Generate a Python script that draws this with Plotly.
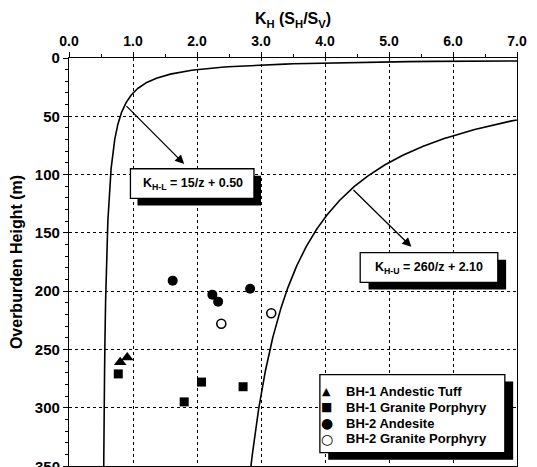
import numpy as np
import plotly.graph_objects as go

# Measured stress ratio K_H = S_H / S_V versus overburden height z (m)
tuff_k = [0.80, 0.91]
tuff_z = [261, 257]

bh1_porph_k = [0.77, 1.80, 2.07, 2.72]
bh1_porph_z = [271, 295, 278, 282]

andesite_k = [1.62, 2.24, 2.33, 2.83]
andesite_z = [191, 203, 209, 198]

bh2_porph_k = [3.16, 2.38]
bh2_porph_z = [219, 228]

# Envelope curves K = a / z + b
lower_a, lower_b = 15.0, 0.50
upper_a, upper_b = 260.0, 2.10

x_ticks = [0, 1, 2, 3, 4, 5, 6, 7]
x_tick_text = ["0.0", "1.0", "2.0", "3.0", "4.0", "5.0", "6.0", "7.0"]
y_ticks = [0, 50, 100, 150, 200, 250, 300, 350]

legend_names = ["BH-1 Andestic Tuff", "BH-1 Granite Porphyry",
                "BH-2 Andesite", "BH-2 Granite Porphyry"]
legend_glyphs = ["\u25B2", "\u25A0", "\u25CF", "\u25CB"]

FONT = "Arial, Liberation Sans, Helvetica, sans-serif"
SYM_FONT = "DejaVu Sans"

z_lower = np.linspace(1.5, 350, 1500)
z_upper = np.linspace(40, 350, 800)

fig = go.Figure()

fig.add_trace(go.Scatter(x=lower_a / z_lower + lower_b, y=z_lower, mode="lines",
                         line=dict(color="black", width=1.6), showlegend=False,
                         hoverinfo="skip"))
fig.add_trace(go.Scatter(x=upper_a / z_upper + upper_b, y=z_upper, mode="lines",
                         line=dict(color="black", width=1.6), showlegend=False,
                         hoverinfo="skip"))

fig.add_trace(go.Scatter(x=tuff_k, y=tuff_z, mode="markers", name=legend_names[0],
                         showlegend=False,
                         marker=dict(symbol="triangle-up", size=11, color="black")))
fig.add_trace(go.Scatter(x=bh1_porph_k, y=bh1_porph_z, mode="markers",
                         name=legend_names[1], showlegend=False,
                         marker=dict(symbol="square", size=9, color="black")))
fig.add_trace(go.Scatter(x=andesite_k, y=andesite_z, mode="markers", name=legend_names[2],
                         showlegend=False,
                         marker=dict(symbol="circle", size=10, color="black")))
fig.add_trace(go.Scatter(x=bh2_porph_k, y=bh2_porph_z, mode="markers",
                         name=legend_names[3], showlegend=False,
                         marker=dict(symbol="circle-open", size=9, color="black",
                                     line=dict(width=1.6, color="black"))))

shapes = []


def shadow_box(x0, x1, y0, y1, dx=0.11, dy=6.0):
    # black drop shadow followed by the white framed box
    shapes.append(dict(type="rect", xref="x", yref="y", x0=x0 + dx, x1=x1 + dx,
                       y0=y0 + dy, y1=y1 + dy, fillcolor="black",
                       line=dict(width=0), layer="above"))
    shapes.append(dict(type="rect", xref="x", yref="y", x0=x0, x1=x1, y0=y0, y1=y1,
                       fillcolor="white", line=dict(color="black", width=1.3),
                       layer="above"))


shadow_box(0.96, 2.89, 95, 120.5)
shadow_box(4.55, 6.70, 167, 192.5, dx=0.13)
shadow_box(3.92, 6.81, 271.6, 338.6, dx=0.13)

annotations = [
    dict(x=1.93, y=108, xref="x", yref="y", showarrow=False,
         text="K<sub>H-L</sub> = 15/z + 0.50",
         font=dict(family=FONT, size=12.5, color="black", weight="bold")),
    dict(x=5.62, y=180, xref="x", yref="y", showarrow=False,
         text="K<sub>H-U</sub> = 260/z + 2.10",
         font=dict(family=FONT, size=12.5, color="black", weight="bold")),
    dict(x=1.80, y=91, ax=lower_a / 40 + lower_b, ay=40, xref="x", yref="y",
         axref="x", ayref="y", text="", showarrow=True, arrowhead=2,
         arrowsize=1.4, arrowwidth=1.3, arrowcolor="black"),
    dict(x=5.35, y=162, ax=upper_a / 112 + upper_b, ay=112, xref="x", yref="y",
         axref="x", ayref="y", text="", showarrow=True, arrowhead=2,
         arrowsize=1.4, arrowwidth=1.3, arrowcolor="black"),
    # bottom tick label sits on the lower edge of the page
    dict(x=0, y=350, xref="paper", yref="y", xanchor="right", xshift=-7,
         showarrow=False, text="350",
         font=dict(family=FONT, size=15, color="black", weight="bold")),
]

# key for the four sample groups inside the framed box
legend_rows_z = [286.5, 299.8, 313.2, 326.7]
glyph_sizes = [11, 12, 14, 14]
for name, glyph, gsize, zrow in zip(legend_names, legend_glyphs, glyph_sizes,
                                    legend_rows_z):
    annotations.append(dict(x=4.03, y=zrow, xref="x", yref="y", showarrow=False,
                            text=glyph, xanchor="center", yanchor="middle",
                            font=dict(family=SYM_FONT, size=gsize, color="black")))
    annotations.append(dict(x=4.30, y=zrow, xref="x", yref="y", showarrow=False,
                            text=name, xanchor="left", yanchor="middle",
                            font=dict(family=FONT, size=13, color="black",
                                      weight="bold")))

fig.update_layout(
    template="none",
    width=537, height=467,
    margin=dict(l=69, r=20, t=58, b=1, autoexpand=False),
    paper_bgcolor="white", plot_bgcolor="white",
    font=dict(family=FONT, color="black", weight="bold"),
    shapes=shapes,
    annotations=annotations,
    showlegend=False,
    xaxis=dict(
        side="top", range=[0, 7], tickvals=x_ticks, ticktext=x_tick_text,
        showline=True, linecolor="black", linewidth=1.3, mirror=True,
        ticks="outside", ticklen=5, tickwidth=1, tickcolor="black",
        minor=dict(dtick=0.5, ticks="outside", ticklen=3, tickcolor="black",
                   showgrid=False),
        showgrid=True, gridcolor="black", griddash="dot", gridwidth=1,
        zeroline=False, automargin=False,
        tickfont=dict(family=FONT, size=14, color="black", weight="bold"),
        title=dict(text="K<sub>H</sub> (S<sub>H</sub>/S<sub>V</sub>)", standoff=4,
                   font=dict(family=FONT, size=16, color="black", weight="bold")),
    ),
    yaxis=dict(
        range=[350, 0], tickvals=y_ticks,
        showline=True, linecolor="black", linewidth=1.3, mirror=True,
        ticks="outside", ticklen=5, tickwidth=1, tickcolor="black",
        minor=dict(dtick=10, ticks="outside", ticklen=3, tickcolor="black",
                   showgrid=False),
        showgrid=True, gridcolor="black", griddash="dot", gridwidth=1,
        zeroline=False, automargin=False,
        tickfont=dict(family=FONT, size=15, color="black", weight="bold"),
        title=dict(text="Overburden Height (m)", standoff=8,
                   font=dict(family=FONT, size=16, color="black", weight="bold")),
    ),
)

fig.write_html("out.html")
